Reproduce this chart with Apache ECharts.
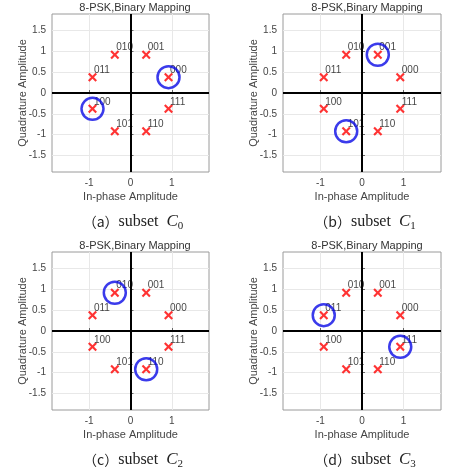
<!DOCTYPE html>
<html><head><meta charset="utf-8">
<script src="https://cdn.jsdelivr.net/npm/echarts@6/dist/echarts.min.js"></script>
<style>html,body{margin:0;padding:0;background:#fff}#c{width:453px;height:468px}</style>
</head><body><div id="c"></div>
<script>
// 8-PSK constellation points (I, Q) and their binary labels
const symX = [0.92, 0.38, -0.38, -0.92, -0.92, -0.38, 0.38, 0.92];
const symY = [0.38, 0.92, 0.92, 0.38, -0.38, -0.92, -0.92, -0.38];
const bitLabels = ['000', '001', '010', '011', '100', '101', '110', '111'];
// indices of circled points for each subset C0..C3
const subsets = [[0, 4], [1, 5], [2, 6], [3, 7]];
const panelLetters = ['a', 'b', 'c', 'd'];
const subsetIdx = ['0', '1', '2', '3'];
const xTicks = [-1, 0, 1];
const yTicks = [-1.5, -1, -0.5, 0, 0.5, 1, 1.5];
const axisMin = -1.9, axisMax = 1.9;
const plotTitle = '8-PSK,Binary Mapping';
const xName = 'In-phase Amplitude';
const yName = 'Quadrature Amplitude';

const layout = [
  {left: 52, top: 14, width: 157, height: 158, cx: 130, capY: 207},
  {left: 283, top: 14, width: 158, height: 158, cx: 362, capY: 207},
  {left: 52, top: 252, width: 157, height: 158, cx: 130, capY: 445},
  {left: 283, top: 252, width: 158, height: 158, cx: 362, capY: 445}
];
const txt = '#454545';
const xMarker = 'path://M0,1.7 L1.7,0 L5,3.3 L8.3,0 L10,1.7 L6.7,5 L10,8.3 L8.3,10 L5,6.7 L1.7,10 L0,8.3 L3.3,5 Z';

const grids = [], xAxes = [], yAxes = [], series = [], titles = [];
layout.forEach((g, i) => {
  grids.push({left: g.left, top: g.top, width: g.width, height: g.height, show: true,
    borderColor: '#9a9a9a', borderWidth: 1, backgroundColor: '#fff'});
  xAxes.push({type: 'value', gridIndex: i, min: axisMin, max: axisMax,
    name: xName, nameLocation: 'middle', nameGap: 19, nameMoveOverlap: false,
    nameTextStyle: {color: txt, fontSize: 11, fontFamily: 'Liberation Sans'},
    axisLine: {show: false},
    axisTick: {show: true, inside: true, length: 3, customValues: xTicks, lineStyle: {color: '#666'}},
    axisLabel: {customValues: xTicks, color: txt, fontSize: 10, fontFamily: 'Liberation Sans', margin: 6},
    splitLine: {show: true, lineStyle: {color: '#e8e8e8', width: 1}}});
  yAxes.push({type: 'value', gridIndex: i, min: axisMin, max: axisMax,
    name: yName, nameLocation: 'middle', nameGap: 24, nameMoveOverlap: false,
    nameTextStyle: {color: txt, fontSize: 11, fontFamily: 'Liberation Sans'},
    axisLine: {show: false},
    axisTick: {show: true, inside: true, length: 3, customValues: yTicks, lineStyle: {color: '#666'}},
    axisLabel: {customValues: yTicks, color: txt, fontSize: 10, fontFamily: 'Liberation Sans', margin: 6},
    splitLine: {show: true, lineStyle: {color: '#e8e8e8', width: 1}}});
  series.push({type: 'scatter', xAxisIndex: i, yAxisIndex: i, z: 3,
    symbol: xMarker, symbolSize: 9,
    itemStyle: {color: '#ff0000'},
    label: {show: true, position: 'right', distance: 0, offset: [-3, -7],
      formatter: p => bitLabels[p.dataIndex], color: '#111', fontSize: 10, fontFamily: 'Liberation Sans'},
    data: symX.map((x, k) => [x, symY[k]]),
    markLine: {silent: true, symbol: 'none', animation: false, label: {show: false},
      lineStyle: {color: '#000', width: 2, type: 'solid'},
      data: [{xAxis: 0}, {yAxis: 0}]}});
  series.push({type: 'scatter', xAxisIndex: i, yAxisIndex: i, z: 4,
    symbol: 'circle', symbolSize: 22,
    itemStyle: {color: 'rgba(0,0,0,0)', borderColor: '#0a0ae6', borderWidth: 2.5},
    data: subsets[i].map(k => [symX[k], symY[k]])});
  titles.push({text: plotTitle, left: g.cx, top: g.top - 17, textAlign: 'center',
    textStyle: {color: '#333', fontSize: 11, fontWeight: 'normal', fontFamily: 'Liberation Sans'}});
  titles.push({text: '{p|（' + panelLetters[i] + '）}{t|subset  }{c|C}{s|' + subsetIdx[i] + '}',
    left: g.cx - 2, top: g.capY, textAlign: 'center',
    textStyle: {fontWeight: 'normal', rich: {
      p: {fontFamily: 'Noto Sans CJK SC', fontSize: 14, fontWeight: 'normal', color: '#222'},
      t: {fontFamily: 'Liberation Serif', fontSize: 16, fontWeight: 'normal', color: '#222'},
      c: {fontFamily: 'Liberation Serif', fontStyle: 'italic', fontWeight: 'normal', fontSize: 17, color: '#222'},
      s: {fontFamily: 'Liberation Serif', fontSize: 11, fontWeight: 'normal', color: '#222', padding: [9, 0, 0, 0]}
    }}});
});

const chart = echarts.init(document.getElementById('c'), null, {renderer: 'canvas'});
chart.setOption({animation: false, title: titles, grid: grids, xAxis: xAxes, yAxis: yAxes, series: series});
</script></body></html>
